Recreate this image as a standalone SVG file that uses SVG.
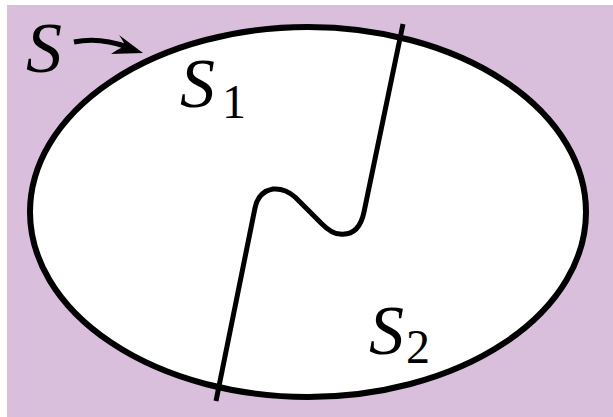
<svg xmlns="http://www.w3.org/2000/svg" width="613" height="417" viewBox="0 0 613 417">
<style>
.ln{fill:none;stroke:#000;stroke-width:5;stroke-linecap:butt;stroke-linejoin:round}
</style>
<rect x="0" y="0" width="613" height="417" fill="#fff"/>
<rect x="7" y="5" width="606" height="412" fill="#d9bfdc"/>
<g id="set-S">
<ellipse cx="308" cy="212" rx="278" ry="185" fill="#fff" stroke="#000" stroke-width="6"/>
</g>
<g id="connectors">
<path class="ln" d="M403 24 L364 212 Q359 236 340 234 Q332 234 322 224 L295 197 Q285 188 273 189 Q258 192 255 208 L216 401"/>
<path d="M74 42 Q100 37 127 47" fill="none" stroke="#000" stroke-width="5"/>
<path d="M143 53 L119 35 Q124 42 125 46 Q118 49 111 54 Z" fill="#000"/>
</g>
<g id="labels" font-family="Liberation Serif, DejaVu Serif, serif" fill="#000">
<text x="26" y="72" font-size="72" font-style="italic">S</text>
<text x="180" y="107" font-size="70" font-style="italic">S</text>
<text x="222" y="118" font-size="48">1</text>
<text x="369" y="354" font-size="70" font-style="italic">S</text>
<text x="406" y="363" font-size="48">2</text>
</g>
</svg>
